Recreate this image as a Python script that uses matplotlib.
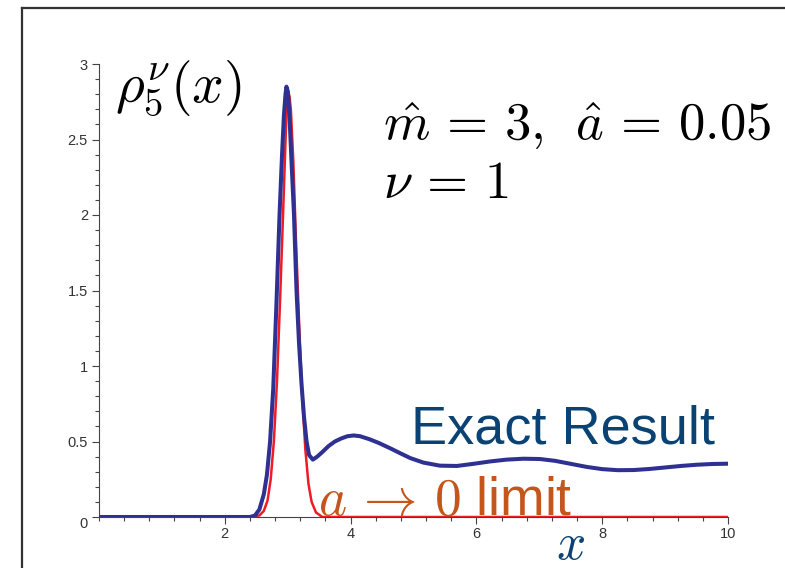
"""
rho_5^nu(x): exact result vs a -> 0 limit
"""
import numpy as np
import matplotlib
matplotlib.use('Agg')
import matplotlib.pyplot as plt
from matplotlib.lines import Line2D

plt.rcParams['font.family'] = ['Liberation Sans', 'DejaVu Sans']
plt.rcParams['mathtext.fontset'] = 'cm'

# Exact result (blue)
x_exact = [0.0, 2.40, 2.48, 2.55, 2.62, 2.67, 2.72, 2.77, 2.82, 2.87, 2.91, 2.94,
           2.965, 2.98, 2.995, 3.01, 3.03, 3.06, 3.10, 3.14, 3.18, 3.22, 3.26,
           3.30, 3.34, 3.40, 3.47, 3.55, 3.65, 3.75, 3.85, 3.95, 4.05, 4.15,
           4.30, 4.45, 4.63, 4.80, 4.95, 5.16, 5.42, 5.69, 5.95, 6.22, 6.48,
           6.75, 7.01, 7.25, 7.50, 7.75, 8.00, 8.25, 8.50, 8.75, 9.00, 9.25,
           9.50, 9.75, 10.0]
y_exact = [0.0, 0.0, 0.01, 0.05, 0.15, 0.28, 0.50, 0.85, 1.40, 2.00, 2.40, 2.66,
           2.80, 2.85, 2.83, 2.78, 2.64, 2.36, 2.00, 1.50, 1.15, 0.88, 0.66,
           0.50, 0.41, 0.38, 0.40, 0.43, 0.47, 0.50, 0.52, 0.535, 0.54, 0.535,
           0.515, 0.49, 0.455, 0.42, 0.39, 0.36, 0.34, 0.338, 0.352, 0.368, 0.38,
           0.386, 0.384, 0.372, 0.352, 0.332, 0.317, 0.310, 0.311, 0.318, 0.328, 0.338,
           0.346, 0.351, 0.353]

# a -> 0 limit (red)
x_limit = [0.0, 2.40, 2.55, 2.62, 2.68, 2.73, 2.78, 2.83, 2.88, 2.93, 2.97,
           2.99, 3.01, 3.03, 3.05, 3.09, 3.13, 3.18, 3.23, 3.28, 3.33, 3.38,
           3.45, 3.55, 10.0]
y_limit = [0.0, 0.0, 0.01, 0.04, 0.11, 0.25, 0.50, 0.90, 1.45, 2.05, 2.55,
           2.74, 2.82, 2.78, 2.70, 2.35, 1.85, 1.30, 0.80, 0.45, 0.22, 0.10,
           0.03, 0.0, 0.0]

W, H = 785, 568
fig = plt.figure(figsize=(W / 100, H / 100), dpi=100)
ax = fig.add_axes([99 / W, 1 - 517 / H, 629 / W, 453 / H])

ax.plot(x_limit, y_limit, color='#ee1c25', lw=1.8, zorder=3)
ax.plot(x_exact, y_exact, color='#2e3192', lw=2.9, zorder=4)

ax.set_xlim(0, 10)
ax.set_ylim(0, 3)
for s in ['top', 'right']:
    ax.spines[s].set_visible(False)
for s in ['left', 'bottom']:
    ax.spines[s].set_color('#444444')
    ax.spines[s].set_linewidth(0.8)

ax.set_xticks([2, 4, 6, 8, 10])
ax.set_xticks(np.arange(0, 10.01, 0.4), minor=True)
ax.set_yticks([0, 0.5, 1, 1.5, 2, 2.5, 3])
ax.set_yticklabels(['0', '0.5', '1', '1.5', '2', '2.5', '3'])
ax.set_yticks(np.arange(0, 3.01, 0.1), minor=True)
ax.tick_params(which='both', colors='#444444', labelcolor='#333333', labelsize=10.5,
               width=0.8)
ax.tick_params(which='major', length=5)
ax.tick_params(which='minor', length=3)
ax.tick_params(axis='x', pad=2)
ax.tick_params(axis='y', pad=3)
ax.get_yticklabels()[0].set_verticalalignment('top')

# frame around figure
fig.add_artist(Line2D([22 / W, 22 / W], [0, 1 - 8 / H], color='#333333', lw=1.6))
fig.add_artist(Line2D([22 / W, 1], [1 - 8 / H, 1 - 8 / H], color='#333333', lw=1.6))

def px(x, y):
    return x / W, 1 - y / H

fig.text(*px(115, 88), r'$\rho_5^{\nu}(x)$', fontsize=40, ha='left', va='center')
fig.text(*px(383, 140), r'$\hat{m}\,=\,3,\;\,\hat{a}\,=\,0.05$', fontsize=38,
         ha='left', va='baseline')
fig.text(*px(383, 198), r'$\nu\,=\,1$', fontsize=38, ha='left', va='baseline')
fig.text(*px(411, 443), 'Exact Result', fontsize=39, color='#0a4273',
         ha='left', va='baseline')
fig.text(*px(318, 515), r'$a\,\rightarrow\,0$ limit', fontsize=38.5, color='#c4561b',
         ha='left', va='baseline')
fig.text(*px(570, 546), r'$x$', fontsize=37, color='#0a4273', ha='center', va='center')

fig.savefig('out.png', dpi=100)
